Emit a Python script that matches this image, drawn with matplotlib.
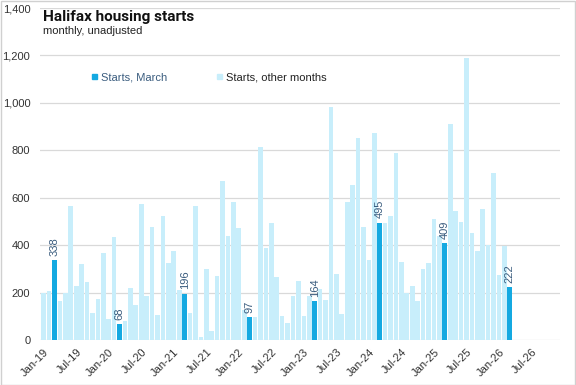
import matplotlib
matplotlib.use("Agg")
import matplotlib.pyplot as plt
from matplotlib.patches import Rectangle
import pandas as pd

# ---- data ----
start_month = "2019-01"
starts = [197, 206, 338, 165, 197, 566, 228, 321, 245, 114, 173, 367,
          89, 435, 68, 80, 220, 148, 574, 186, 477, 106, 524, 325,
          376, 211, 196, 115, 566, 14, 300, 38, 270, 672, 439, 583,
          472, 127, 97, 96, 815, 390, 493, 267, 101, 72, 186, 248,
          101, 186, 164, 217, 168, 984, 280, 109, 584, 652, 853, 475,
          336, 874, 495, 492, 521, 790, 328, 200, 227, 164, 298, 324,
          509, 437, 409, 912, 542, 496, 1190, 450, 374, 551, 399, 706,
          273, 397, 222]
tick_step = 6
n_ticks = 16
y_ticks = [0, 200, 400, 600, 800, 1000, 1200, 1400]
title = "Halifax housing starts"
subtitle = "monthly, unadjusted"
legend_labels = ["Starts, March", "Starts, other months"]

c_march = "#14A9E1"
c_other = "#C8EEFB"
c_label = "#3A5C7E"

months = pd.period_range(start_month, periods=len(starts), freq="M")
tick_months = pd.period_range(start_month, periods=n_ticks * tick_step, freq="M")[::tick_step]
tick_labels = [m.strftime("%b-%y") for m in tick_months]

fig = plt.figure(figsize=(5.76, 3.85), dpi=100)
ax = fig.add_axes([40/576, 1-340/385, 520/576, 332/385])

x = list(range(len(starts)))
is_march = [m.month == 3 for m in months]
colors = [c_march if mm else c_other for mm in is_march]
ax.bar(x, starts, width=0.86, color=colors, zorder=2)

for xi, v, mm in zip(x, starts, is_march):
    if mm:
        ax.annotate(f"{v}", (xi, v), xytext=(0, 3), textcoords="offset points",
                    rotation=90, ha="center", va="bottom", fontsize=8,
                    color=c_label, family="Liberation Sans")

ax.set_xlim(-0.68, 95.26)
ax.set_ylim(0, 1400)
ax.set_yticks(y_ticks)
ax.set_yticklabels([f"{v:,}" for v in y_ticks], fontsize=8, color="#333333",
                   family="Liberation Sans")
ax.set_xticks(list(range(0, n_ticks * tick_step, tick_step)))
ax.set_xticklabels(tick_labels, rotation=45, ha="right", rotation_mode="anchor",
                   fontsize=8, color="#333333", family="Liberation Sans")
ax.tick_params(axis="both", length=0)
ax.tick_params(axis="y", pad=7)
ax.tick_params(axis="x", pad=5)
ax.grid(axis="y", color="#D9D9D9", linewidth=0.9, zorder=0)
for s in ax.spines.values():
    s.set_visible(False)

fig.text(43/576, 1-17/385, title, fontsize=11, fontweight="bold", va="center",
         ha="left", color="#111111", family="Roboto")
fig.text(43/576, 1-31/385, subtitle, fontsize=8, va="center", ha="left",
         color="#222222", family="Liberation Sans")

# legend
fig.patches.append(Rectangle((92/576, 1-79/385), 5/576, 5/385,
                             transform=fig.transFigure, color=c_march))
fig.text(101/576, 1-77/385, legend_labels[0], fontsize=8, va="center",
         color=c_label, family="Liberation Sans")
fig.patches.append(Rectangle((217/576, 1-79/385), 5/576, 5/385,
                             transform=fig.transFigure, color=c_other))
fig.text(226/576, 1-77/385, legend_labels[1], fontsize=8, va="center",
         color="#222222", family="Liberation Sans")

# outer border
fig.patches.append(Rectangle((0.5/576, 0.5/385), 1-1.5/576, 1-1.5/385,
                             transform=fig.transFigure, fill=False,
                             edgecolor="#D0D0D0", linewidth=1))

fig.savefig("out.png", dpi=100)
